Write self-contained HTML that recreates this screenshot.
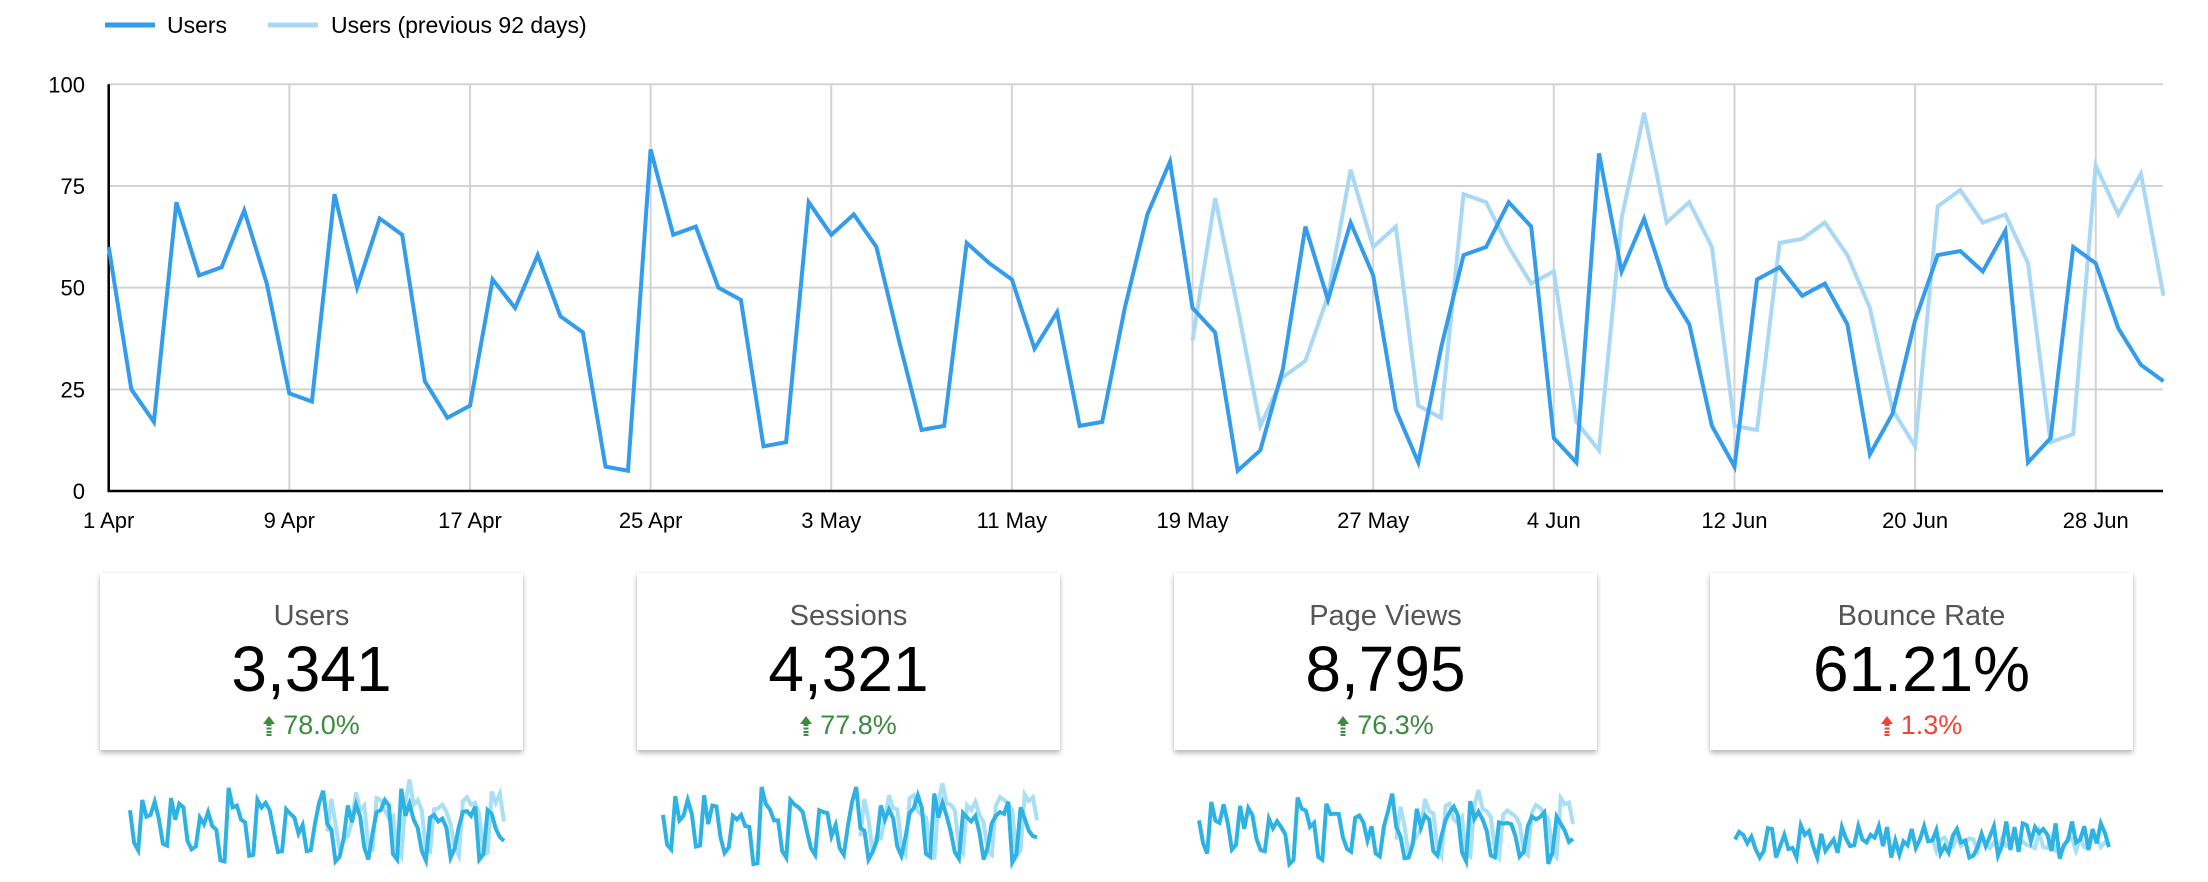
<!DOCTYPE html>
<html><head><meta charset="utf-8">
<style>
html,body{margin:0;padding:0;background:#fff;width:2208px;height:882px;overflow:hidden;font-family:"Liberation Sans",sans-serif;}
.card{position:absolute;top:573px;width:423px;height:177px;background:#fff;box-shadow:0 3px 5px rgba(0,0,0,.28),0 0 2px rgba(0,0,0,.08);text-align:center;}
.t{position:absolute;left:0;right:0;top:25px;font-size:29px;color:#555;line-height:36px;}
.n{position:absolute;left:0;right:0;top:58px;font-size:64px;color:#000;line-height:76px;}
.c{position:absolute;left:0;right:0;top:135px;font-size:27px;line-height:34px;}
.g{color:#3c8c40}.r{color:#f44336}
.c svg{vertical-align:-2px;margin-right:8px}
</style></head><body>
<svg id="main" width="2208" height="882" style="position:absolute;left:0;top:0" xmlns="http://www.w3.org/2000/svg"></svg>
<div class="card" style="left:100px"><div class="t">Users</div><div class="n">3,341</div><div class="c g"><svg width="12" height="20" viewBox="0 0 12 20"><path d="M6 0L12 8H8.5V10H3.5V8H0Z M3.5 11.5h5v2h-5z M3.5 15h5v2h-5z M3.5 18h5v2h-5z" fill="#3c8c40"/></svg>78.0%</div></div>
<div class="card" style="left:637px"><div class="t">Sessions</div><div class="n">4,321</div><div class="c g"><svg width="12" height="20" viewBox="0 0 12 20"><path d="M6 0L12 8H8.5V10H3.5V8H0Z M3.5 11.5h5v2h-5z M3.5 15h5v2h-5z M3.5 18h5v2h-5z" fill="#3c8c40"/></svg>77.8%</div></div>
<div class="card" style="left:1174px"><div class="t">Page Views</div><div class="n">8,795</div><div class="c g"><svg width="12" height="20" viewBox="0 0 12 20"><path d="M6 0L12 8H8.5V10H3.5V8H0Z M3.5 11.5h5v2h-5z M3.5 15h5v2h-5z M3.5 18h5v2h-5z" fill="#3c8c40"/></svg>76.3%</div></div>
<div class="card" style="left:1710px"><div class="t">Bounce Rate</div><div class="n">61.21%</div><div class="c r"><svg width="12" height="20" viewBox="0 0 12 20"><path d="M6 0L12 8H8.5V10H3.5V8H0Z M3.5 11.5h5v2h-5z M3.5 15h5v2h-5z M3.5 18h5v2h-5z" fill="#f44336"/></svg>1.3%</div></div>
<script>
var cur=[60,25,17,71,53,55,69,51,24,22,73,50,67,63,27,18,21,52,45,58,43,39,6,5,84,63,65,50,47,11,12,71,63,68,60,37,15,16,61,56,52,35,44,16,17,45,68,81,45,39,5,10,30,65,47,66,53,20,7,35,58,60,71,65,13,7,83,54,67,50,41,16,6,52,55,48,51,41,9,19,42,58,59,54,64,7,13,60,56,40,31,27];
var prev=[37,72,45,16,28,32,48,79,60,65,21,18,73,71,60,51,54,17,10,67,93,66,71,60,16,15,61,62,66,58,45,20,11,70,74,66,68,56,12,14,80,68,78,48];
var s=document.getElementById('main'),h='';
var X0=108.7,DX=22.58,Y0=491,K=4.067;
for(var v=0;v<=100;v+=25){var y=Y0-K*v;h+='<line x1="'+X0+'" x2="2163" y1="'+y+'" y2="'+y+'" stroke="#d3d3d3" stroke-width="2"/>';
h+='<text x="85" y="'+(y+8)+'" font-size="22" text-anchor="end" fill="#000">'+v+'</text>';}
var labs=['1 Apr','9 Apr','17 Apr','25 Apr','3 May','11 May','19 May','27 May','4 Jun','12 Jun','20 Jun','28 Jun'];
for(var i=0;i<12;i++){var x=X0+DX*8*i;if(i>0)h+='<line x1="'+x+'" x2="'+x+'" y1="'+(Y0-K*100)+'" y2="'+Y0+'" stroke="#d3d3d3" stroke-width="2"/>';
h+='<text x="'+x+'" y="528" font-size="22" text-anchor="middle" fill="#000">'+labs[i]+'</text>';}
h+='<line x1="'+X0+'" x2="'+X0+'" y1="'+(Y0-K*100)+'" y2="'+(Y0+1)+'" stroke="#000" stroke-width="2.5"/>';
h+='<line x1="'+(X0-1)+'" x2="2163" y1="'+Y0+'" y2="'+Y0+'" stroke="#000" stroke-width="2.5"/>';
function pts(a,off,fx,fy){return a.map(function(v,i){return (fx(i+off)).toFixed(1)+','+fy(v).toFixed(1)}).join(' ');}
h+='<polyline fill="none" stroke="#a8d8f6" stroke-width="4" points="'+pts(prev,48,function(i){return X0+DX*i},function(v){return Y0-K*v})+'"/>';
h+='<polyline fill="none" stroke="#339ced" stroke-width="4" points="'+pts(cur,0,function(i){return X0+DX*i},function(v){return Y0-K*v})+'"/>';
h+='<line x1="105" x2="155" y1="25" y2="25" stroke="#339ced" stroke-width="5"/><text x="167" y="33" font-size="23">Users</text>';
h+='<line x1="268" x2="318" y1="25" y2="25" stroke="#a8d8f6" stroke-width="5"/><text x="331" y="33" font-size="23">Users (previous 92 days)</text>';
var lefts=[130,663,1199,1735];
function shift(a,k,m){return a.map(function(v,i){return Math.max(2,Math.min(98,v*m+((i*k)%11-5)))});}
var sets=[[cur,prev],[shift(cur,3,1),shift(prev,5,1)],[shift(cur,7,0.9),shift(prev,4,0.9)],[cur.map(function(v,i){return 30+((v*7+i*13)%40)}),prev.map(function(v,i){return 35+((v*5+i*3)%24)})]];
for(var c=0;c<4;c++){var L=lefts[c],W=374/91;
var fy=c==3?function(v){return 868-0.95*(v-20)}:function(v){return 866-0.93*v};
h+='<polyline fill="none" stroke="#a8dff5" stroke-width="4" points="'+pts(sets[c][1],48,function(i){return L+W*i},fy)+'"/>';
h+='<polyline fill="none" stroke="#2eb2e4" stroke-width="4" points="'+pts(sets[c][0],0,function(i){return L+W*i},fy)+'"/>';}
s.innerHTML=h;
</script>
</body></html>
